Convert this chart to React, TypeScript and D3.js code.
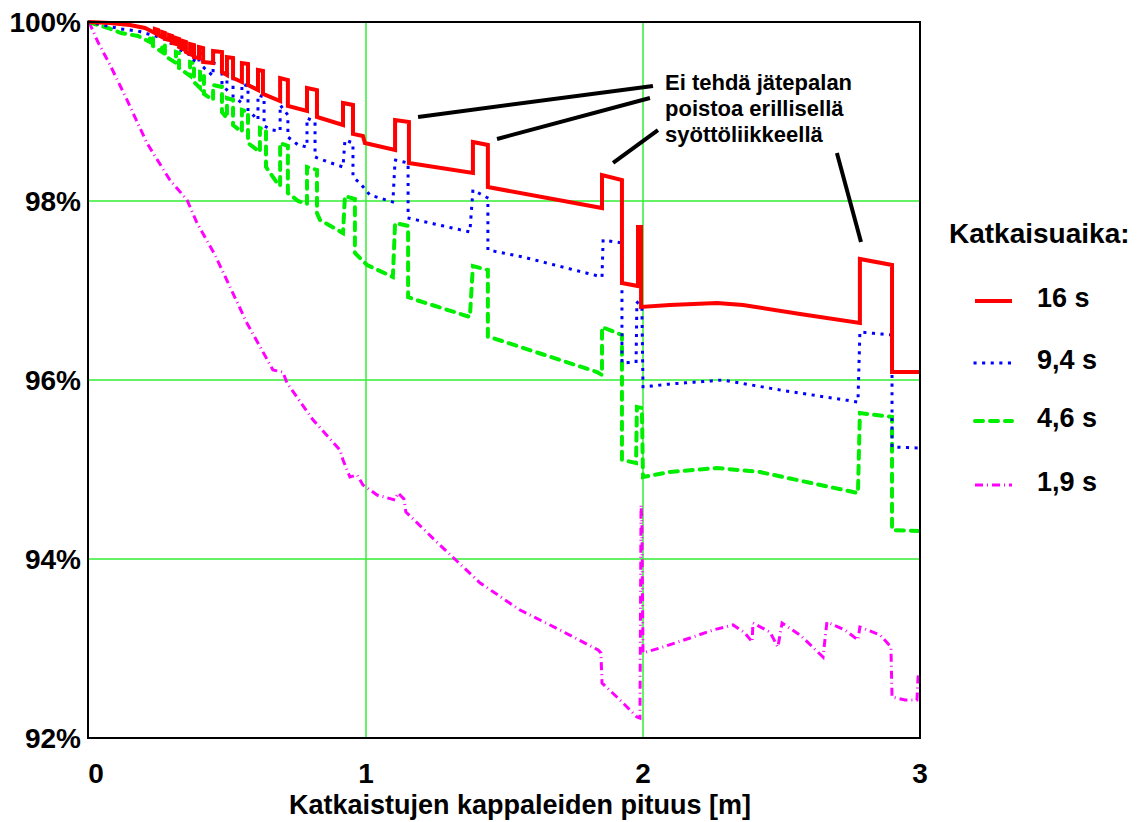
import React from "react";
import * as d3 from "d3";

type P = [number, number];

const xTicks = [0, 1, 2, 3];
const yTicks = [92, 94, 96, 98, 100];
const xGrid = [1, 2];
const yGrid = [94, 96, 98];

const seriesNames = ["16 s", "9,4 s", "4,6 s", "1,9 s"];

const red16: P[] = [
  [0, 100], [0.076, 99.989], [0.148, 99.966], [0.202, 99.933],
  [0.238, 99.877], [0.238, 99.922], [0.249, 99.911], [0.249, 99.855],
  [0.264, 99.832], [0.264, 99.888], [0.274, 99.877], [0.274, 99.81],
  [0.289, 99.799], [0.289, 99.855], [0.3, 99.844], [0.3, 99.765],
  [0.314, 99.754], [0.314, 99.821], [0.325, 99.81], [0.325, 99.721],
  [0.339, 99.698], [0.339, 99.788], [0.35, 99.777], [0.35, 99.665],
  [0.365, 99.642], [0.365, 99.754], [0.379, 99.743], [0.379, 99.609],
  [0.397, 99.598], [0.397, 99.721], [0.412, 99.709], [0.412, 99.553],
  [0.448, 99.542], [0.448, 99.676], [0.48, 99.665], [0.48, 99.441],
  [0.498, 99.408], [0.498, 99.609], [0.52, 99.598], [0.52, 99.374],
  [0.552, 99.33], [0.552, 99.542], [0.574, 99.531], [0.574, 99.296],
  [0.61, 99.24], [0.61, 99.464], [0.628, 99.453], [0.628, 99.196],
  [0.69, 99.117], [0.69, 99.374], [0.718, 99.352], [0.718, 99.061],
  [0.787, 99.006], [0.787, 99.263], [0.823, 99.24], [0.823, 98.939],
  [0.917, 98.849], [0.917, 99.095], [0.953, 99.073], [0.953, 98.749],
  [0.989, 98.726], [0.996, 98.648], [1.105, 98.57], [1.105, 98.905],
  [1.155, 98.883], [1.155, 98.425], [1.386, 98.313], [1.386, 98.659],
  [1.44, 98.626], [1.44, 98.156], [1.852, 97.922], [1.852, 98.291],
  [1.924, 98.235], [1.924, 97.084], [1.982, 97.05], [1.982, 97.709],
  [1.993, 97.709], [1.993, 96.816], [2.097, 96.838], [2.267, 96.86],
  [2.361, 96.838], [2.567, 96.737], [2.783, 96.637], [2.783, 97.352],
  [2.899, 97.285], [2.899, 96.089], [3.0, 96.089],
];

const blue94: P[] = [
  [0, 100], [0.032, 99.978], [0.116, 99.922], [0.177, 99.899], [0.238, 99.844],
  [0.264, 99.821], [0.264, 99.866], [0.274, 99.855], [0.274, 99.788],
  [0.314, 99.743], [0.314, 99.81], [0.325, 99.799], [0.325, 99.698],
  [0.365, 99.631], [0.365, 99.721], [0.379, 99.709], [0.379, 99.575],
  [0.397, 99.542], [0.397, 99.654], [0.412, 99.642], [0.412, 99.497],
  [0.448, 99.397], [0.448, 99.542], [0.48, 99.52], [0.48, 99.307],
  [0.498, 99.24], [0.498, 99.419], [0.52, 99.397], [0.52, 99.173],
  [0.552, 99.095], [0.552, 99.307], [0.574, 99.285], [0.574, 99.017],
  [0.61, 98.905], [0.61, 99.184], [0.632, 99.162], [0.632, 98.838],
  [0.664, 98.793], [0.69, 98.782], [0.69, 99.073], [0.718, 98.961], [0.718, 98.715],
  [0.755, 98.626], [0.787, 98.603], [0.787, 98.927], [0.816, 98.883], [0.816, 98.492],
  [0.863, 98.436], [0.917, 98.38], [0.924, 98.682], [0.953, 98.648], [0.953, 98.268],
  [0.978, 98.201], [1.014, 98.067], [1.097, 97.989], [1.105, 98.458], [1.152, 98.425],
  [1.152, 97.81], [1.375, 97.654], [1.386, 98.123], [1.44, 98.034], [1.44, 97.453],
  [1.567, 97.374], [1.852, 97.151], [1.856, 97.564], [1.924, 97.531], [1.924, 96.19],
  [1.975, 96.201], [1.978, 96.872], [1.996, 96.816], [2.0, 95.922], [2.097, 95.955],
  [2.289, 96.0], [2.495, 95.888], [2.776, 95.754], [2.783, 96.536], [2.899, 96.503],
  [2.899, 95.251], [3.0, 95.24],
];

const green46: P[] = [
  [0, 100], [0.032, 99.966], [0.069, 99.933], [0.116, 99.877], [0.177, 99.844],
  [0.22, 99.777], [0.22, 99.844], [0.231, 99.832], [0.231, 99.732],
  [0.264, 99.665], [0.264, 99.754], [0.274, 99.743], [0.274, 99.62],
  [0.314, 99.542], [0.314, 99.665], [0.325, 99.654], [0.325, 99.486],
  [0.365, 99.397], [0.365, 99.553], [0.379, 99.542], [0.379, 99.33],
  [0.401, 99.263], [0.401, 99.441], [0.415, 99.43], [0.415, 99.196],
  [0.448, 99.128], [0.448, 99.296], [0.48, 99.274], [0.48, 98.994],
  [0.498, 98.927], [0.498, 99.151], [0.52, 99.128], [0.52, 98.849],
  [0.552, 98.771], [0.552, 99.017], [0.574, 98.994], [0.574, 98.648],
  [0.617, 98.547], [0.617, 98.816], [0.639, 98.793], [0.639, 98.38],
  [0.679, 98.201], [0.69, 98.168], [0.69, 98.648], [0.718, 98.615], [0.718, 98.089],
  [0.755, 98.0], [0.787, 97.966], [0.787, 98.38], [0.823, 98.346], [0.823, 97.866],
  [0.834, 97.788], [0.917, 97.642], [0.924, 98.056], [0.96, 98.022], [0.96, 97.419],
  [1.004, 97.285], [1.097, 97.151], [1.105, 97.754], [1.152, 97.721], [1.152, 96.927],
  [1.17, 96.905], [1.375, 96.704], [1.386, 97.274], [1.44, 97.229], [1.44, 96.48],
  [1.458, 96.469], [1.834, 96.089], [1.852, 96.056], [1.852, 96.592], [1.924, 96.503],
  [1.924, 95.106], [1.975, 95.073], [1.978, 95.698], [1.996, 95.687], [2.0, 94.916],
  [2.097, 94.972], [2.267, 95.017], [2.422, 94.972], [2.776, 94.737], [2.783, 95.631],
  [2.899, 95.587], [2.899, 94.324], [3.0, 94.313],
];

const magenta19: P[] = [
  [0, 100], [0.032, 99.777], [0.076, 99.52], [0.134, 99.151], [0.209, 98.648],
  [0.292, 98.235], [0.354, 98.011], [0.39, 97.754], [0.455, 97.397], [0.509, 97.039],
  [0.57, 96.637], [0.664, 96.112], [0.7, 96.089], [0.715, 95.966], [0.809, 95.553],
  [0.906, 95.218], [0.917, 95.106], [0.942, 94.916], [0.968, 94.939], [0.989, 94.827],
  [1.04, 94.715], [1.105, 94.659], [1.116, 94.737], [1.137, 94.67], [1.144, 94.525],
  [1.267, 94.156], [1.412, 93.732], [1.556, 93.43], [1.7, 93.207], [1.838, 92.983],
  [1.848, 92.95], [1.852, 92.615], [1.917, 92.425], [1.978, 92.235], [1.989, 92.223],
  [1.993, 94.603], [1.996, 94.436], [2.0, 92.95], [2.061, 93.006], [2.17, 93.117],
  [2.253, 93.207], [2.325, 93.263], [2.368, 93.173], [2.394, 93.073], [2.397, 93.285],
  [2.458, 93.184], [2.487, 93.017], [2.502, 93.285], [2.567, 93.151], [2.65, 92.905],
  [2.664, 93.296], [2.729, 93.207], [2.776, 93.095], [2.783, 93.24], [2.856, 93.151],
  [2.895, 93.017], [2.899, 92.458], [2.946, 92.425], [2.989, 92.425], [2.993, 92.682],
  [3.0, 92.726],
];

const annotationLines = ["Ei tehdä jätepalan", "poistoa erillisellä", "syöttöliikkeellä"];
const annotationPointers: [P, P][] = [
  [[1.188, 98.939], [2.036, 99.285]],
  [[1.473, 98.693], [2.025, 99.151]],
  [[1.892, 98.425], [2.054, 98.793]],
  [[2.7, 98.536], [2.787, 97.542]],
];

const styles = [
  { color: "#ff0000", width: 4, dash: "", cap: "butt" },
  { color: "#0000ff", width: 3, dash: "0.1 8.5", cap: "square" },
  { color: "#00ee00", width: 4, dash: "8 7", cap: "round" },
  { color: "#ff00ff", width: 3, dash: "8 4 1 4", cap: "butt" },
];

const FONT = "'Liberation Sans', Arial, sans-serif";

export default function App() {
  const W = 1139, H = 822;
  const x = d3.scaleLinear().domain([0, 3]).range([89, 920]);
  const y = d3.scaleLinear().domain([92, 100]).range([738, 22]);
  const line = d3.line<P>().x((d) => x(d[0])).y((d) => y(d[1]));
  const series = [red16, blue94, green46, magenta19];
  const drawOrder = [3, 2, 1, 0];
  const legendY = [301, 363, 421, 485];

  return (
    <svg width={W} height={H} style={{ position: "absolute", left: 0, top: 0, background: "#fff" }} fontFamily={FONT}>
      <rect x={0} y={0} width={W} height={H} fill="#fff" />
      {xGrid.map((v) => (
        <line key={"gx" + v} x1={x(v)} x2={x(v)} y1={y(100)} y2={y(92)} stroke="#33ee33" strokeWidth={1.5} />
      ))}
      {yGrid.map((v) => (
        <line key={"gy" + v} x1={x(0)} x2={x(3)} y1={y(v)} y2={y(v)} stroke="#33ee33" strokeWidth={1.5} />
      ))}
      {drawOrder.map((i) => (
        <path key={"s" + i} d={line(series[i]) || ""} fill="none" stroke={styles[i].color}
          strokeWidth={styles[i].width} strokeDasharray={styles[i].dash || undefined}
          strokeLinejoin="miter" strokeLinecap={styles[i].cap as any} />
      ))}
      <rect x={x(0) - 1} y={y(100)} width={x(3) - x(0) + 1} height={y(92) - y(100)} fill="none" stroke="#000" strokeWidth={2} />
      {yTicks.map((v) => (
        <text key={"yt" + v} x={81} y={y(v)} dy="0.35em" textAnchor="end" fontSize={28} fontWeight="bold" fill="#000">
          {v + "%"}
        </text>
      ))}
      {xTicks.map((v) => (
        <text key={"xt" + v} x={x(v) + (v === 0 ? 7 : 0)} y={773} dy="0.35em" textAnchor="middle" fontSize={28} fontWeight="bold" fill="#000">
          {v}
        </text>
      ))}
      <text x={520} y={805} dy="0.35em" textAnchor="middle" fontSize={27} fontWeight="bold" fill="#000">
        Katkaistujen kappaleiden pituus [m]
      </text>
      {annotationPointers.map((p, i) => (
        <line key={"ap" + i} x1={x(p[0][0])} y1={y(p[0][1])} x2={x(p[1][0])} y2={y(p[1][1])} stroke="#000" strokeWidth={4} />
      ))}
      {annotationLines.map((t, i) => (
        <text key={"an" + i} x={665} y={90 + i * 26} fontSize={22} fontWeight="bold" fill="#000">
          {t}
        </text>
      ))}
      <text x={949} y={233} dy="0.35em" fontSize={28} fontWeight="bold" fill="#000">Katkaisuaika:</text>
      {seriesNames.map((n, i) => (
        <g key={"lg" + i}>
          <line x1={975} x2={1012} y1={legendY[i]} y2={legendY[i]} stroke={styles[i].color}
            strokeWidth={styles[i].width} strokeDasharray={styles[i].dash || undefined}
            strokeLinecap={styles[i].cap as any} />
          <text x={1037} y={legendY[i] - 3} dy="0.35em" fontSize={27} fontWeight="bold" fill="#000">{n}</text>
        </g>
      ))}
    </svg>
  );
}
